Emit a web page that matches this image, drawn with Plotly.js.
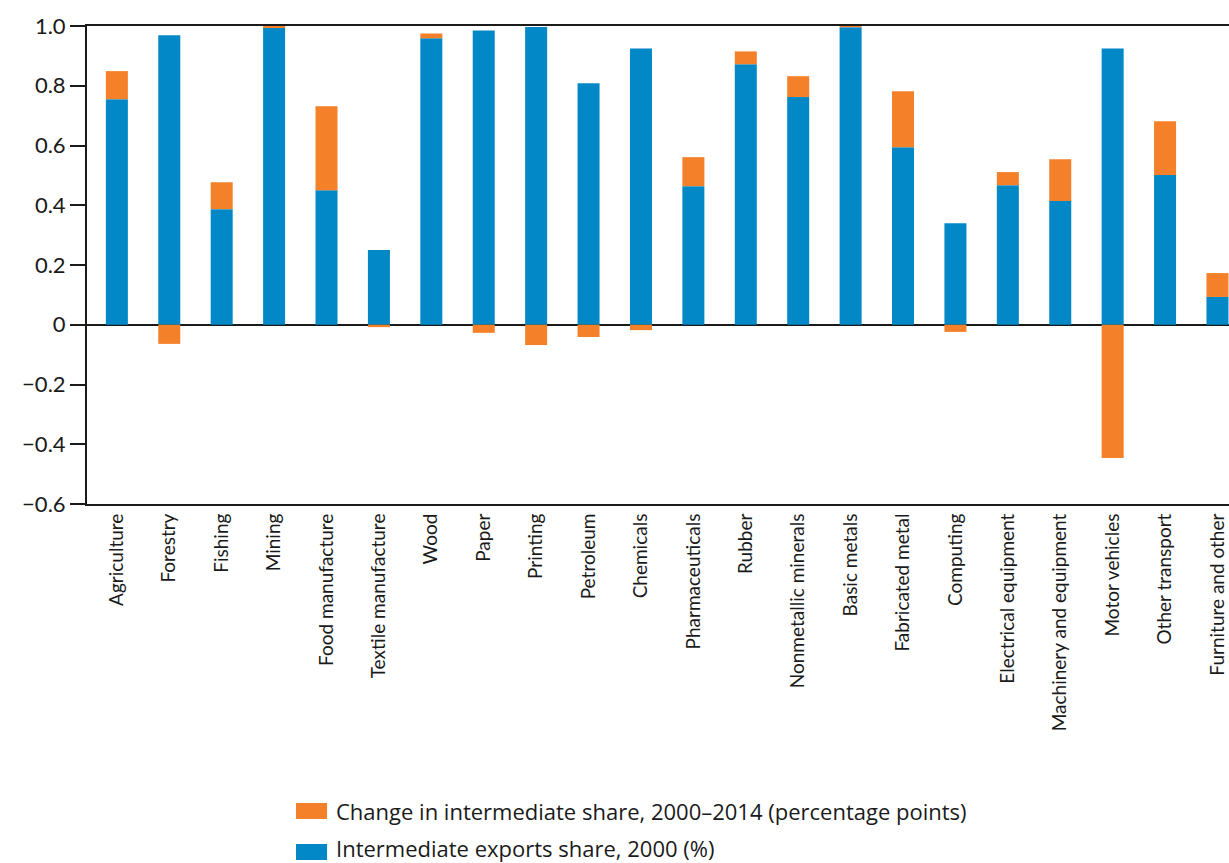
<!DOCTYPE html>
<html>
<head>
<meta charset="utf-8">
<script src="https://cdn.plot.ly/plotly-3.0.1.min.js"></script>
<style>html,body{margin:0;padding:0;background:#fff;}#chart{width:1229px;height:863px;}</style>
</head>
<body>
<div id="chart"></div>
<script>
const categories = ["Agriculture","Forestry","Fishing","Mining","Food manufacture","Textile manufacture","Wood","Paper","Printing","Petroleum","Chemicals","Pharmaceuticals","Rubber","Nonmetallic minerals","Basic metals","Fabricated metal","Computing","Electrical equipment","Machinery and equipment","Motor vehicles","Other transport","Furniture and other"];
const share2000 = [0.755,0.969,0.387,0.993,0.450,0.250,0.959,0.985,0.997,0.808,0.925,0.464,0.872,0.762,0.996,0.594,0.340,0.467,0.414,0.925,0.501,0.093];
const change = [0.094,-0.064,0.090,0.007,0.281,-0.008,0.016,-0.027,-0.068,-0.041,-0.018,0.097,0.043,0.070,0.004,0.188,-0.024,0.044,0.140,-0.446,0.180,0.080];
const yTicks = [-0.6,-0.4,-0.2,0,0.2,0.4,0.6,0.8,1.0];
const yTickText = ["\u22120.6","\u22120.4","\u22120.2","0","0.2","0.4","0.6","0.8","1.0"];
const seriesNames = ["Change in intermediate share, 2000\u20132014 (percentage points)", "Intermediate exports share, 2000 (%)"];
const seriesColors = ["#f4812a", "#0288c7"];

const traces = [
  {type:"bar", x:categories, y:share2000, name:seriesNames[1], marker:{color:seriesColors[1]}, width:0.42, showlegend:false},
  {type:"bar", x:categories, y:change, name:seriesNames[0], marker:{color:seriesColors[0]}, width:0.42, showlegend:false}
];

// custom legend (paper coordinates)
const legRowsY = [[-0.6255,-0.6590,-0.6423],[-0.7113,-0.7448,-0.7190]];
const shapes = legRowsY.map((r,i)=>({type:"rect", xref:"paper", yref:"paper", x0:0.1830, x1:0.2102, y0:r[1], y1:r[0], fillcolor:seriesColors[i], line:{width:0}}));
const annotations = legRowsY.map((r,i)=>({xref:"paper", yref:"paper", x:0.2175, y:r[2], xanchor:"left", yanchor:"middle", text:seriesNames[i], showarrow:false, borderpad:0, font:{family:"Open Sans, sans-serif", size:22, color:"#1a1a1a"}}));

const layout = {
  width:1229, height:863,
  margin:{l:87, r:0, t:26, b:359},
  barmode:"relative",
  paper_bgcolor:"#fff", plot_bgcolor:"#fff",
  font:{family:"Lato, sans-serif", color:"#1a1a1a"},
  showlegend:false,
  shapes:shapes,
  annotations:annotations,
  xaxis:{type:"category", range:[-0.57,21.22], tickangle:-90, tickfont:{size:19}, showline:true, linecolor:"#1a1a1a", linewidth:2, mirror:true, ticks:"", showgrid:false, automargin:false},
  yaxis:{range:[-0.6,1.0], tickvals:yTicks, ticktext:yTickText, tickfont:{size:22}, ticks:"outside", ticklen:15, tickwidth:2, tickcolor:"#1a1a1a", showline:true, linecolor:"#1a1a1a", linewidth:2, showgrid:false, zeroline:true, zerolinecolor:"#1a1a1a", zerolinewidth:2, automargin:false}
};
Plotly.newPlot("chart", traces, layout, {displayModeBar:false, staticPlot:true});
</script>
</body>
</html>
